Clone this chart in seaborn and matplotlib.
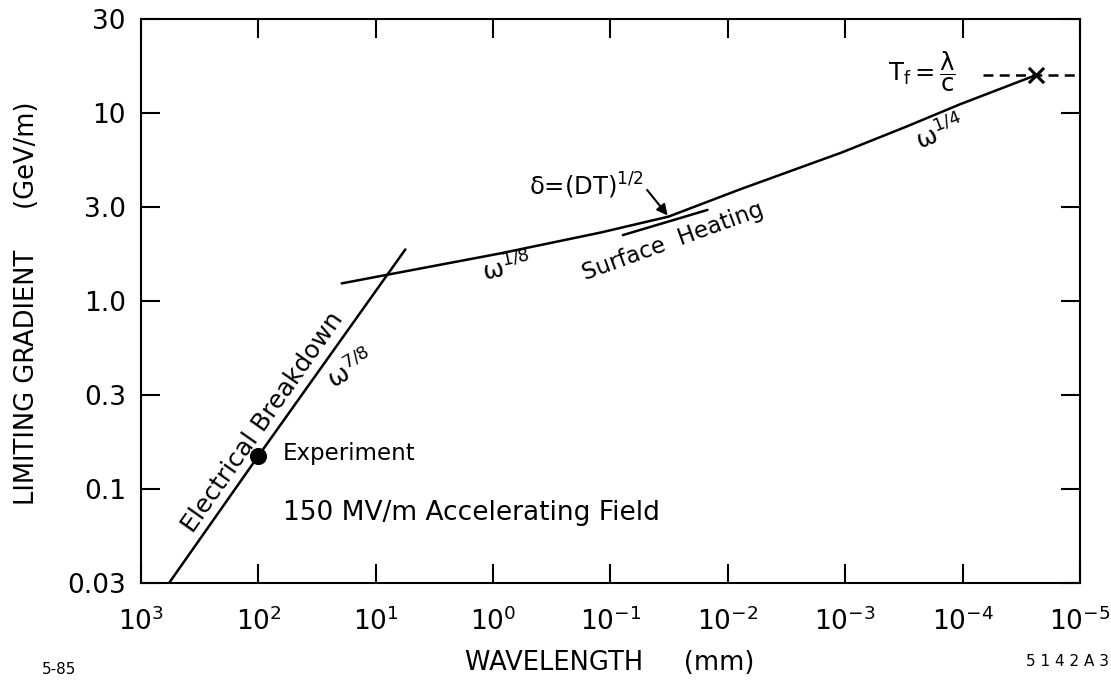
import numpy as np
import pandas as pd
import matplotlib
matplotlib.use("Agg")
import matplotlib.pyplot as plt
from matplotlib.ticker import FixedLocator, NullLocator
import seaborn as sns

# ── DATA ────────────────────────────────────────────────────
# wavelength in mm, limiting gradient in GeV/m
breakdown_x = [577, 100, 5.6]
breakdown_y = [0.0316, 0.15, 1.88]

experiment_x = [100]
experiment_y = [0.15]

omega18_x = [19.5, 6.2, 0.87, 0.122, 0.032]
omega18_y = [1.24, 1.42, 1.79, 2.31, 2.81]

omega14_x = [0.032, 0.0079, 1.08e-3, 3.0e-4, 1.06e-4, 2.37e-5]
omega14_y = [2.81, 3.92, 6.15, 8.47, 11.1, 15.9]

surface_x = [0.0785, 0.0149]
surface_y = [2.24, 3.05]

fill_time_x = [6.7e-5, 1e-5]
fill_time_y = [15.9, 15.9]

xtick_values = [1e3, 1e2, 1e1, 1e0, 1e-1, 1e-2, 1e-3, 1e-4, 1e-5]
xtick_labels = [r"$10^{3}$", r"$10^{2}$", r"$10^{1}$", r"$10^{0}$", r"$10^{-1}$",
                r"$10^{-2}$", r"$10^{-3}$", r"$10^{-4}$", r"$10^{-5}$"]
# the reference spaces its y ticks evenly, i.e. at half decades
ytick_values = [0.0316, 0.1, 0.316, 1.0, 3.16, 10.0, 31.6]
ytick_labels = ["0.03", "0.1", "0.3", "1.0", "3.0", "10", "30"]

# ── STYLE ───────────────────────────────────────────────────
sns.set_style("ticks")
plt.rcParams["font.family"] = ["DejaVu Sans"]
plt.rcParams["mathtext.fontset"] = "dejavusans"
plt.rcParams["text.color"] = "black"
plt.rcParams["axes.labelcolor"] = "black"
plt.rcParams["xtick.color"] = "black"
plt.rcParams["ytick.color"] = "black"

fig = plt.figure(figsize=(11.11, 6.81), dpi=100)
ax = fig.add_axes([0.127, 0.144, 0.845, 0.828])
ax.set_xscale("log")
ax.set_yscale("log")

lw = 1.8
sns.lineplot(x=breakdown_x, y=breakdown_y, ax=ax, color="black", lw=lw, sort=False)
sns.lineplot(x=omega18_x, y=omega18_y, ax=ax, color="black", lw=lw, sort=False)
sns.lineplot(x=omega14_x, y=omega14_y, ax=ax, color="black", lw=lw, sort=False)
sns.lineplot(x=surface_x, y=surface_y, ax=ax, color="black", lw=lw, sort=False)
sns.lineplot(x=fill_time_x, y=fill_time_y, ax=ax, color="black", lw=lw,
             sort=False, linestyle=(0, (4, 2.5)))
sns.scatterplot(x=experiment_x, y=experiment_y, ax=ax, color="black", s=130,
                edgecolor="black", zorder=5)
sns.scatterplot(x=omega14_x[-1:], y=omega14_y[-1:], ax=ax, color="black",
                marker="x", s=120, linewidth=2.2, zorder=5)

ax.set_xlim(1e3, 1e-5)
ax.set_ylim(0.0316, 31.6)
ax.xaxis.set_major_locator(FixedLocator(xtick_values))
ax.xaxis.set_minor_locator(NullLocator())
ax.yaxis.set_major_locator(FixedLocator(ytick_values))
ax.yaxis.set_minor_locator(NullLocator())
ax.set_xticklabels(xtick_labels)
ax.set_yticklabels(ytick_labels)
ax.tick_params(which="major", direction="in", length=14, width=1.5,
               top=True, right=True, colors="black")
ax.tick_params(axis="x", labelsize=19, pad=18)
ax.tick_params(axis="y", labelsize=19, pad=11)
for sp in ax.spines.values():
    sp.set_linewidth(1.5)
    sp.set_color("black")

ax.set_xlabel("WAVELENGTH     (mm)", fontsize=18.5)
ax.set_ylabel("LIMITING GRADIENT     (GeV/m)", fontsize=18.5)
ax.xaxis.set_label_coords(0.4995, -0.119)
ax.yaxis.set_label_coords(-0.108, 0.496)

# ── ANNOTATIONS ─────────────────────────────────────────────
tr = ax.transAxes
ax.text(0.129, 0.284, "Electrical Breakdown", transform=tr, fontsize=18,
        rotation=55, ha="center", va="center", rotation_mode="anchor")
ax.text(0.223, 0.378, "ω$^{7/8}$", transform=tr, fontsize=18,
        rotation=30, ha="center", va="center", rotation_mode="anchor")
ax.text(0.151, 0.230, "Experiment", transform=tr, fontsize=16.5,
        ha="left", va="center")
ax.text(0.151, 0.124, "150 MV/m Accelerating Field", transform=tr, fontsize=19,
        ha="left", va="center")
ax.text(0.389, 0.559, "ω$^{1/8}$", transform=tr, fontsize=18,
        rotation=12, ha="center", va="center", rotation_mode="anchor")
ax.text(0.567, 0.605, "Surface  Heating", transform=tr, fontsize=16.5,
        rotation=20, ha="center", va="center", rotation_mode="anchor")
ax.text(0.474, 0.704, "δ=(DT)$^{1/2}$", transform=tr, fontsize=17.5,
        ha="center", va="center")
ax.annotate("", xy=(omega14_x[0], omega14_y[0]), xycoords="data",
            xytext=(0.539, 0.697), textcoords="axes fraction",
            arrowprops=dict(arrowstyle="-|>", color="black", lw=1.5,
                            mutation_scale=16, shrinkA=0, shrinkB=1))
ax.text(0.851, 0.798, "ω$^{1/4}$", transform=tr, fontsize=18,
        rotation=22, ha="center", va="center", rotation_mode="anchor")
ax.text(0.832, 0.906, r"$\mathregular{T_f = \dfrac{\lambda}{c}}$", transform=tr,
        fontsize=17.5, ha="center", va="center")

fig.text(0.053, 0.017, "5-85", fontsize=11, ha="center", va="center")
fig.text(0.998, 0.028, "5 1 4 2 A 3", fontsize=11, ha="right", va="center")

fig.savefig("out.png", dpi=100)
